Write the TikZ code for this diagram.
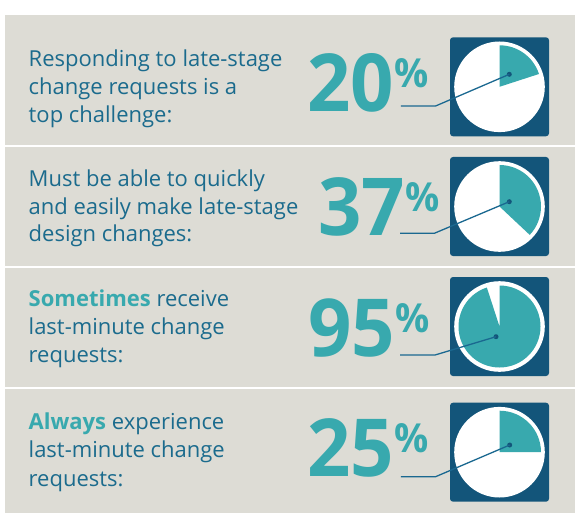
\documentclass[tikz,border=0pt]{standalone}
\usepackage{fontspec}
\setmainfont{Open Sans}
\definecolor{panelc}{HTML}{DDDCD5}
\definecolor{navyc}{HTML}{13557A}
\definecolor{tealc}{HTML}{38A9AE}
\definecolor{txtc}{HTML}{1B6B8D}
\definecolor{leadc}{HTML}{1A6890}
\newcommand\pctsign{{\fontsize{40}{40}\selectfont\raisebox{24pt}{\%}}}
\newcommand\bigfig[1]{\scalebox{0.95}[1]{#1\kern1pt\pctsign}}
\begin{document}
\begin{tikzpicture}[x=1pt,y=-1pt,
  bodytext/.style={anchor=base west, inner sep=0pt, font=\fontsize{22}{26}\selectfont, text=txtc},
  bignum/.style={anchor=base west, inner sep=0pt, font=\fontsize{80}{80}\selectfont\bfseries, text=tealc},
  sqbox/.style={fill=navyc, rounded corners=3pt, minimum width=99pt, minimum height=99pt, inner sep=0pt},
  piebase/.style={circle, fill=white, minimum size=90.6pt, inner sep=0pt},
  wedge/.style={fill=tealc},
  piedot/.style={circle, fill=navyc, minimum size=5pt, inner sep=0pt},
  leader/.style={draw=leadc, line width=1.3pt},
  sepline/.style={draw=white, line width=2pt}]
\useasboundingbox (0,0) rectangle (575,513);
\fill[white] (0,0) rectangle (575,513);
\fill[panelc] (5,15) rectangle (575,513);
\draw[sepline] (5,146) -- (575,146);
\draw[sepline] (5,266.5) -- (575,266.5);
\draw[sepline] (5,387.5) -- (575,387.5);

% Row 1
\node[bodytext] (t1a) at (28.5,66.7) {Responding to late-stage};
\node[bodytext] (t1b) at (28.5,94.8) {change requests is a};
\node[bodytext] (t1c) at (28.5,123) {top challenge:};
\node[bignum] (n1) at (307,112) {\bigfig{20}};
\node[sqbox] (sq1) at (499.5,86.8) {};
\node[piebase] (p1) at (sq1.center) {};
\fill[wedge] (p1.center) -- ++(-90:41.5) arc[start angle=-90, end angle=-18, radius=41.5] -- cycle;
\node[piedot] (d1) at (509.3,74.3) {};
\coordinate (k1) at (435.6,106);
\coordinate (e1) at (400.8,106);
\draw[leader] (d1.center) -- (k1) -- (e1);

% Row 2
\node[bodytext] (t2a) at (28.5,186.7) {Must be able to quickly};
\node[bodytext] (t2b) at (28.5,214.3) {and easily make late-stage};
\node[bodytext] (t2c) at (28.5,241.7) {design changes:};
\node[bignum] (n2) at (318,235.5) {\bigfig{37}};
\node[sqbox] (sq2) at (499.5,206.5) {};
\node[piebase] (p2) at (sq2.center) {};
\fill[wedge] (p2.center) -- ++(-90:41.5) arc[start angle=-90, end angle=43.2, radius=41.5] -- cycle;
\node[piedot] (d2) at (509.3,201.7) {};
\coordinate (k2) at (434.3,233.3);
\coordinate (e2) at (400,233.3);
\draw[leader] (d2.center) -- (k2) -- (e2);

% Row 3
\node[bodytext] (t3a) at (28.5,306.7) {\textcolor{tealc}{\bfseries Sometimes} receive};
\node[bodytext] (t3b) at (28.5,334.5) {last-minute change};
\node[bodytext] (t3c) at (28.5,362) {requests:};
\node[bignum] (n3) at (308,356.7) {\bigfig{95}};
\node[sqbox] (sq3) at (499.5,326.5) {};
\node[piebase] (p3) at (sq3.center) {};
\fill[wedge] (p3.center) -- ++(-90:41) arc[start angle=-90, end angle=252, radius=41] -- cycle;
\node[piedot] (d3) at (496,336.7) {};
\coordinate (k3) at (435,355);
\coordinate (e3) at (400,355);
\draw[leader] (d3.center) -- (k3) -- (e3);

% Row 4
\node[bodytext] (t4a) at (28.5,429.3) {\textcolor{tealc}{\bfseries Always} experience};
\node[bodytext] (t4b) at (28.5,457.3) {last-minute change};
\node[bodytext] (t4c) at (28.5,486.5) {requests:};
\node[bignum] (n4) at (307,476.7) {\bigfig{25}};
\node[sqbox] (sq4) at (499.5,452.2) {};
\node[piebase] (p4) at (sq4.center) {};
\fill[wedge] (p4.center) -- ++(-90:41.5) arc[start angle=-90, end angle=0, radius=41.5] -- cycle;
\node[piedot] (d4) at (509.7,445) {};
\coordinate (k4) at (435.6,476.7);
\coordinate (e4) at (400.8,476.7);
\draw[leader] (d4.center) -- (k4) -- (e4);
\end{tikzpicture}
\end{document}
